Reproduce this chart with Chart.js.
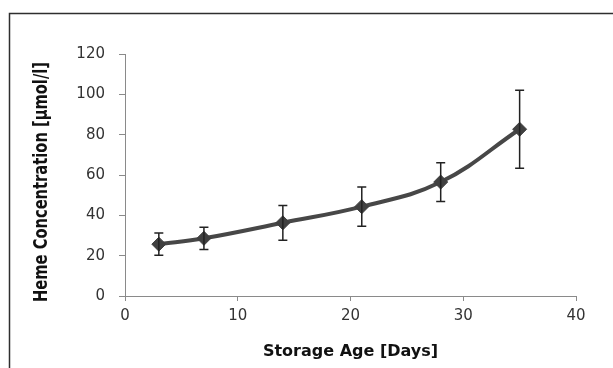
<!DOCTYPE html>
<html>
<head>
<meta charset="utf-8">
<script src="https://cdn.jsdelivr.net/npm/chart.js@4.4.1/dist/chart.umd.min.js"></script>
<style>
    body { margin: 0; background: #ffffff; }
    .chart-container { position: relative; width: 613px; height: 368px; }
</style>
</head>
<body>
<div class="chart-container">
    <canvas id="canvas_grafica"></canvas>
</div>
<script>
const dias_almacenamiento = [3, 7, 14, 21, 28, 35];
const concentracion_hemo = [25.7, 28.6, 36.3, 44.3, 56.5, 82.7];
const error_hemo = [5.5, 5.5, 8.6, 9.7, 9.6, 19.3];
const ticks_x = [0, 10, 20, 30, 40];
const ticks_y = [0, 20, 40, 60, 80, 100, 120];
const titulo_x = 'Storage Age [Days]';
const titulo_y = 'Heme Concentration [µmol/l]';

const puntos = dias_almacenamiento.map((d, i) => ({ x: d, y: concentracion_hemo[i] }));

// marco del grafico (solo borde izquierdo y superior se ven en la imagen)
const marco_plugin = {
    id: 'marco',
    beforeDraw(chart) {
        const ctx = chart.ctx;
        ctx.save();
        ctx.strokeStyle = '#2e2e2e';
        ctx.lineWidth = 1.5;
        ctx.beginPath();
        ctx.moveTo(9.5, chart.height);
        ctx.lineTo(9.5, 13.5);
        ctx.lineTo(chart.width, 13.5);
        ctx.stroke();
        ctx.restore();
    }
};

const barras_error_plugin = {
    id: 'barras_error',
    afterDatasetsDraw(chart) {
        const ctx = chart.ctx;
        const sx = chart.scales.x;
        const sy = chart.scales.y;
        ctx.save();
        ctx.strokeStyle = '#222222';
        ctx.lineWidth = 1.5;
        dias_almacenamiento.forEach((d, i) => {
            const px = sx.getPixelForValue(d);
            const arriba = sy.getPixelForValue(concentracion_hemo[i] + error_hemo[i]);
            const abajo = sy.getPixelForValue(concentracion_hemo[i] - error_hemo[i]);
            ctx.beginPath();
            ctx.moveTo(px, arriba);
            ctx.lineTo(px, abajo);
            ctx.moveTo(px - 4.5, arriba);
            ctx.lineTo(px + 4.5, arriba);
            ctx.moveTo(px - 4.5, abajo);
            ctx.lineTo(px + 4.5, abajo);
            ctx.stroke();
        });
        ctx.restore();
    }
};

// titulo vertical, estrecho como en la imagen original
const titulo_y_plugin = {
    id: 'titulo_y',
    afterDraw(chart) {
        const ctx = chart.ctx;
        const largo = 240;
        ctx.save();
        ctx.font = 'bold 20px "DejaVu Sans Condensed", "DejaVu Sans", sans-serif';
        ctx.fillStyle = '#111111';
        ctx.textAlign = 'center';
        ctx.textBaseline = 'middle';
        const ancho = ctx.measureText(titulo_y).width;
        ctx.translate(42, 182);
        ctx.rotate(-Math.PI / 2);
        ctx.scale(largo / ancho, 1);
        ctx.fillText(titulo_y, 0, 0);
        ctx.restore();
    }
};

const ctx = document.getElementById('canvas_grafica').getContext('2d');

new Chart(ctx, {
    type: 'line',
    data: {
        datasets: [{
            data: puntos,
            borderColor: '#474747',
            borderWidth: 4,
            tension: 0.4,
            pointStyle: 'rectRot',
            pointRadius: 7,
            pointBackgroundColor: '#404040',
            pointBorderColor: '#404040',
            pointBorderWidth: 1
        }]
    },
    options: {
        responsive: true,
        maintainAspectRatio: false,
        animation: false,
        layout: {
            padding: { left: 0, top: 54, right: 37, bottom: 0 }
        },
        plugins: {
            legend: { display: false },
            tooltip: { enabled: false }
        },
        scales: {
            x: {
                type: 'linear',
                min: ticks_x[0],
                max: ticks_x[ticks_x.length - 1],
                afterFit: (scale) => { scale.height = 72; },
                afterBuildTicks: (scale) => { scale.ticks = ticks_x.map(v => ({ value: v })); },
                grid: {
                    drawOnChartArea: false,
                    tickLength: 5,
                    color: '#8a8a8a'
                },
                border: { color: '#8a8a8a', width: 1 },
                ticks: {
                    padding: 6,
                    color: '#333333',
                    font: { family: '"DejaVu Sans", sans-serif', size: 15 }
                },
                title: {
                    display: true,
                    text: titulo_x,
                    color: '#111111',
                    font: { family: '"DejaVu Sans", sans-serif', size: 16, weight: 'bold' },
                    padding: { top: 0, bottom: 7 }
                }
            },
            y: {
                min: ticks_y[0],
                max: ticks_y[ticks_y.length - 1],
                afterFit: (scale) => { scale.width = 125; },
                afterBuildTicks: (scale) => { scale.ticks = ticks_y.map(v => ({ value: v })); },
                grid: {
                    drawOnChartArea: false,
                    tickLength: 6,
                    color: '#8a8a8a'
                },
                border: { color: '#8a8a8a', width: 1 },
                ticks: {
                    padding: 14,
                    color: '#333333',
                    font: { family: '"DejaVu Sans", sans-serif', size: 15 }
                },
                title: { display: false }
            }
        }
    },
    plugins: [marco_plugin, barras_error_plugin, titulo_y_plugin]
});
</script>
</body>
</html>
